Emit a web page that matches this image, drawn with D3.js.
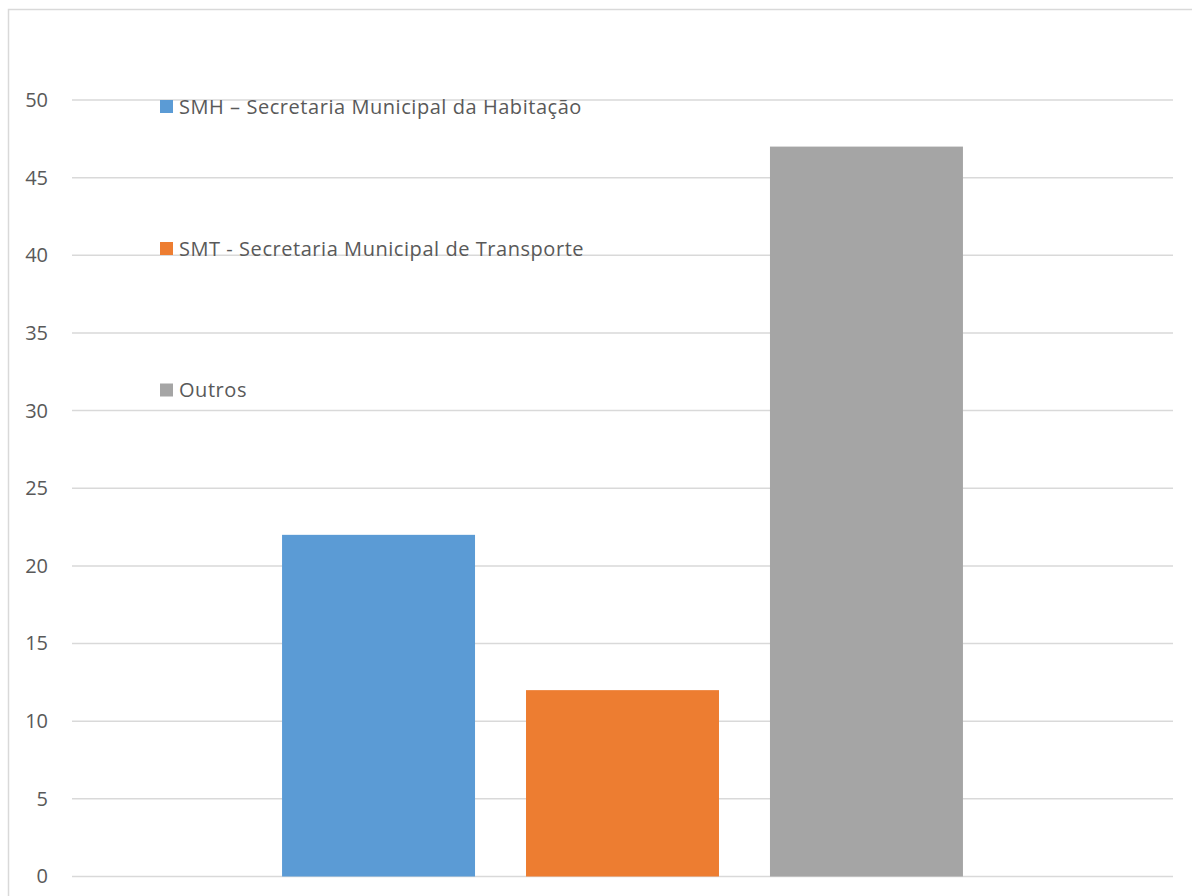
<!DOCTYPE html>
<html>
<head>
<meta charset="utf-8">
<script src="https://cdn.jsdelivr.net/npm/d3@7"></script>
<style>
  html, body { margin: 0; padding: 0; background: #fff; }
  svg { display: block; }
  text { font-family: "Open Sans", sans-serif; fill: #595959; }
</style>
</head>
<body>
<svg id="chart" width="1192" height="896"></svg>
<script>
// Series (one category, three clustered bars)
const series = ["SMH – Secretaria Municipal da Habitação", "SMT - Secretaria Municipal de Transporte", "Outros"];
const values = [22, 12, 47];
const colors = ["#5b9bd5", "#ed7d31", "#a5a5a5"];
const yTicks = [0, 5, 10, 15, 20, 25, 30, 35, 40, 45, 50];

const svg = d3.select("#chart");
const W = 1192, H = 896;

// chart area frame
svg.append("rect")
  .attr("x", 8.5).attr("y", 9.5)
  .attr("width", W + 10).attr("height", H + 10)
  .attr("fill", "#fff")
  .attr("stroke", "#d9d9d9").attr("stroke-width", 1.5);

const plot = { left: 72, right: 1173, top: 100, bottom: 876.5 };

const y = d3.scaleLinear().domain([0, 50]).range([plot.bottom, plot.top]);
const x = d3.scaleBand().domain(series).range([plot.left, plot.right])
  .paddingInner(0.209).paddingOuter(0.861);

// gridlines
svg.append("g")
  .selectAll("line")
  .data(yTicks)
  .join("line")
  .attr("x1", plot.left).attr("x2", plot.right)
  .attr("y1", d => y(d)).attr("y2", d => y(d))
  .attr("stroke", "#d9d9d9").attr("stroke-width", 1.5);

// y axis labels
const yAxis = d3.axisLeft(y).tickValues(yTicks).tickSize(0).tickPadding(0);
const ga = svg.append("g").attr("transform", `translate(${48},0)`).call(yAxis);
ga.select(".domain").remove();
ga.selectAll("text")
  .attr("font-size", 20)
  .attr("font-family", "'Open Sans', sans-serif")
  .attr("fill", "#595959");

// bars
svg.append("g")
  .selectAll("rect")
  .data(values)
  .join("rect")
  .attr("x", (d, i) => x(series[i]))
  .attr("width", x.bandwidth())
  .attr("y", d => y(d))
  .attr("height", d => y(0) - y(d))
  .attr("fill", (d, i) => colors[i]);

// legend
const legendY = [106.5, 248.5, 390];
const lg = svg.append("g")
  .selectAll("g")
  .data(series)
  .join("g")
  .attr("transform", (d, i) => `translate(160,${legendY[i]})`);
lg.append("rect")
  .attr("x", 0).attr("y", -6.5)
  .attr("width", 13).attr("height", 13)
  .attr("fill", (d, i) => colors[i]);
lg.append("text")
  .attr("x", 19).attr("y", 0)
  .attr("dy", "0.35em")
  .attr("font-size", 20)
  .attr("letter-spacing", "0.55px")
  .text(d => d);
</script>
</body>
</html>
